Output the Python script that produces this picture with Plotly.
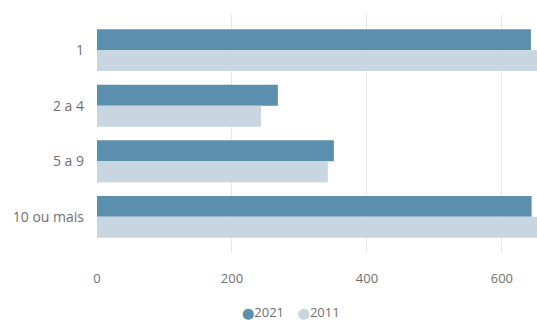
import plotly.graph_objects as go

categories = ["1", "2 a 4", "5 a 9", "10 ou mais"]
values_2021 = [643, 268, 351, 644]
values_2011 = [660, 243, 342, 660]
x_ticks = [0, 200, 400, 600]
series_names = ["2021", "2011"]

color_2021 = "#5b8fad"
color_2011 = "#c7d6e1"
font_family = "Open Sans, Noto Sans, sans-serif"
text_color = "#707070"

fig = go.Figure()
fig.add_trace(go.Bar(y=categories, x=values_2021, orientation="h", name=series_names[0],
                     marker=dict(color=color_2021, line=dict(width=0))))
fig.add_trace(go.Bar(y=categories, x=values_2011, orientation="h", name=series_names[1],
                     marker=dict(color=color_2011, line=dict(width=0))))

# compact legend with round swatches placed right next to the labels
dot = '<span style="font-family:DejaVu Sans;font-size:11px;color:{c}">⬤</span>'
legend_text = (
    dot.format(c=color_2021) + series_names[0]
    + "&nbsp;&nbsp;&nbsp;&nbsp;"
    + dot.format(c=color_2011) + series_names[1]
)
fig.add_annotation(text=legend_text, xref="paper", yref="paper", x=0.44, y=-0.245,
                   xanchor="center", yanchor="middle", showarrow=False,
                   font=dict(family=font_family, size=13, color=text_color))

fig.update_layout(
    width=537, height=320,
    margin=dict(l=97, r=0, t=14, b=67),
    paper_bgcolor="white", plot_bgcolor="white",
    barmode="group", bargap=0.245, bargroupgap=0,
    showlegend=False,
    font=dict(family=font_family, size=13, color=text_color),
    xaxis=dict(range=[0, 652], tickvals=x_ticks, showgrid=True, gridcolor="#e8e8e8",
               gridwidth=1, zeroline=False, showline=False, ticks="",
               ticklabelstandoff=16, tickfont=dict(size=13), fixedrange=True),
    yaxis=dict(categoryorder="array", categoryarray=categories,
               range=[3.65, -0.65], showgrid=False, zeroline=False, showline=False,
               ticks="", ticklabelstandoff=12, tickfont=dict(size=14), fixedrange=True),
)

fig.write_html("out.html")
